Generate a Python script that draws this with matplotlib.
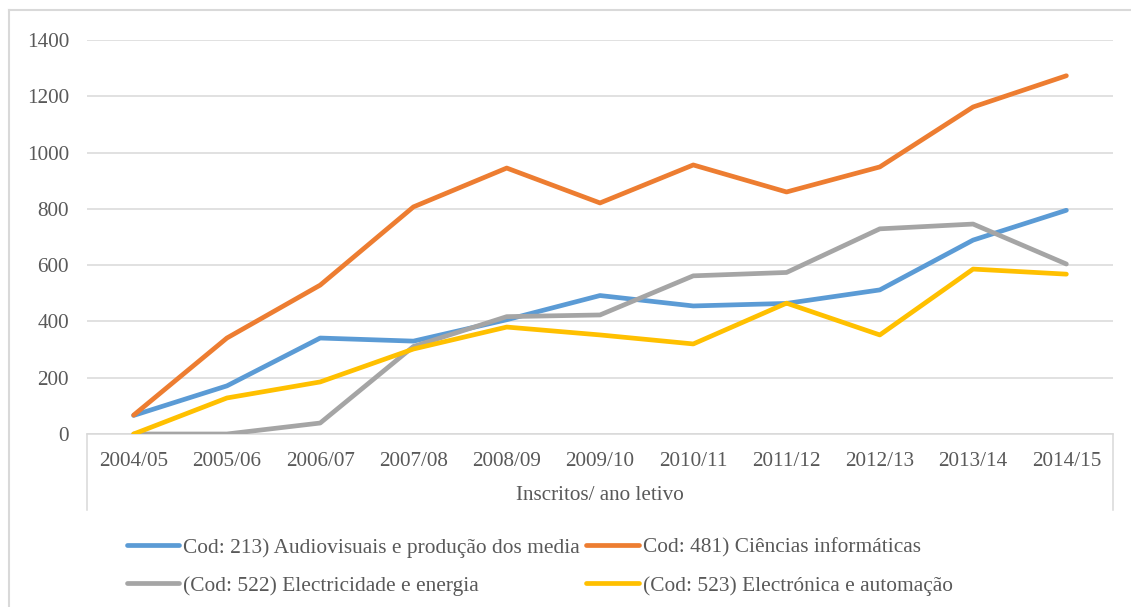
import matplotlib
matplotlib.use('Agg')
import matplotlib.pyplot as plt
from matplotlib.lines import Line2D

plt.rcParams['font.family'] = 'serif'
plt.rcParams['font.serif'] = ['Liberation Serif', 'DejaVu Serif']

anos = ['2004/05', '2005/06', '2006/07', '2007/08', '2008/09', '2009/10',
        '2010/11', '2011/12', '2012/13', '2013/14', '2014/15']

cod213 = [66, 171, 341, 330, 406, 492, 455, 464, 512, 689, 795]
cod481 = [67, 341, 529, 807, 945, 821, 956, 860, 949, 1162, 1273]
cod522 = [0, 0, 39, 311, 417, 423, 562, 574, 729, 746, 604]
cod523 = [0, 128, 185, 302, 380, 352, 320, 465, 352, 586, 568]

nomes = ['Cod: 213) Audiovisuais e produção dos media',
         'Cod: 481) Ciências informáticas',
         '(Cod: 522) Electricidade e energia',
         '(Cod: 523) Electrónica e automação']
cores = ['#5B9BD5', '#ED7D31', '#A5A5A5', '#FFC000']

cinza_txt = '#595959'
cinza_linha = '#D9D9D9'
fs = 15.2

fig = plt.figure(figsize=(11.31, 6.07), dpi=100)
ax = fig.add_axes([87/1131, 1-434/607, (1113-87)/1131, (434-40)/607])

x = list(range(len(anos)))
linhas = []
for serie, cor, nome in zip([cod213, cod481, cod522, cod523], cores, nomes):
    l, = ax.plot(x, serie, color=cor, lw=3.4, solid_capstyle='round',
                 solid_joinstyle='round', label=nome, zorder=3)
    linhas.append(l)

ax.set_xlim(-0.5, len(anos) - 0.5)
ax.set_ylim(0, 1400)
ax.set_yticks(range(0, 1401, 200))
ax.yaxis.grid(True, color=cinza_linha, lw=1.1)
ax.set_axisbelow(True)
for s in ['top', 'right', 'left']:
    ax.spines[s].set_visible(False)
ax.spines['bottom'].set_color(cinza_linha)
ax.spines['bottom'].set_linewidth(1.1)
ax.set_xticks(x)
ax.set_xticklabels(anos)
ax.tick_params(axis='both', length=0, labelsize=fs, labelcolor=cinza_txt)
ax.tick_params(axis='x', pad=13)
ax.tick_params(axis='y', pad=13)

# caixa do eixo das categorias
desce = (510 - 434) / 394
for xa in (0, 1):
    ax.add_line(Line2D([xa, xa], [0, -desce], transform=ax.transAxes,
                       color=cinza_linha, lw=1.1, clip_on=False))

fig.text(600/1131, 1-496/607, 'Inscritos/ ano letivo', ha='center', va='center',
         fontsize=fs, color=cinza_txt)

ordem = [linhas[0], linhas[2], linhas[1], linhas[3]]
leg = fig.legend(ordem, [l.get_label() for l in ordem], ncol=2, frameon=False,
                 loc='upper left', bbox_to_anchor=(118/1131, 1-529/607),
                 fontsize=15.4, handlelength=2.45, handletextpad=0.2,
                 columnspacing=0.3, labelspacing=0.85, borderaxespad=0)
for t in leg.get_texts():
    t.set_color(cinza_txt)

# moldura do gráfico
fig.add_artist(Line2D([9/1131, 9/1131], [0, 1-10/607], color=cinza_linha, lw=1.5))
fig.add_artist(Line2D([9/1131, 1], [1-10/607, 1-10/607], color=cinza_linha, lw=1.5))

fig.savefig('out.png', dpi=100)
